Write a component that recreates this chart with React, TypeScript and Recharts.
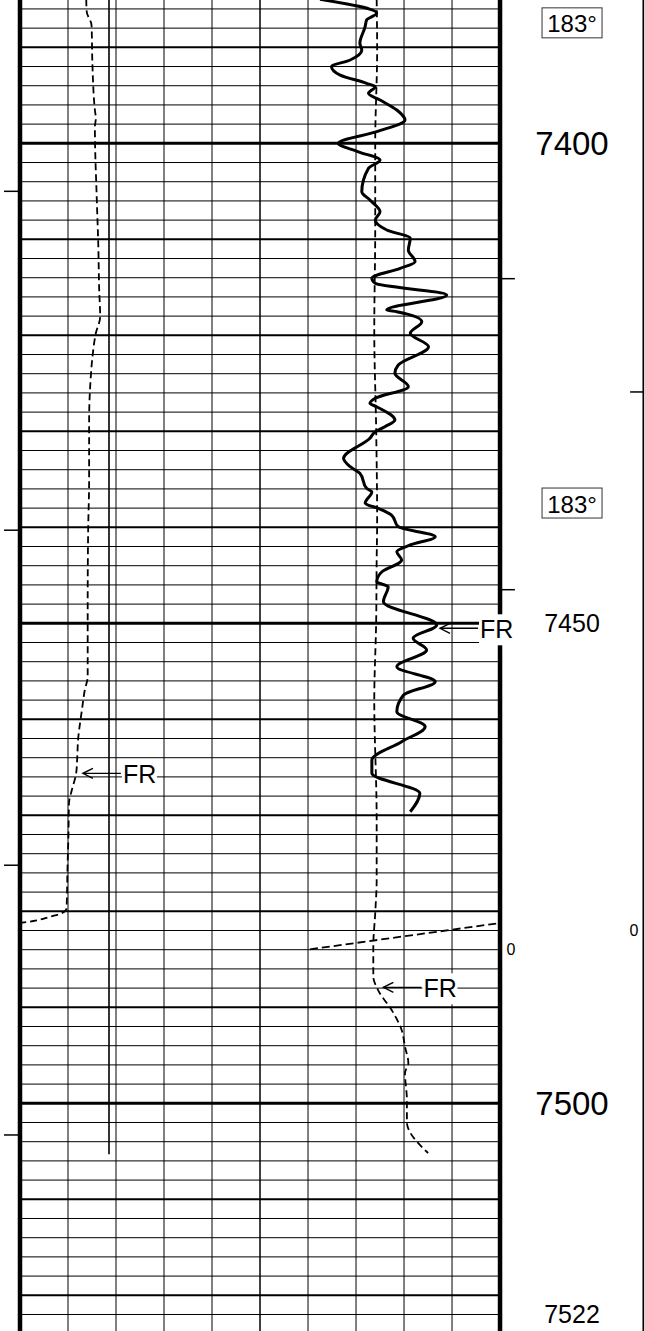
import React from 'react';
import { ScatterChart, Scatter, XAxis, YAxis, ReferenceLine } from 'recharts';

const FONT = '"Liberation Sans", Arial, Helvetica, sans-serif';

// depth window of this strip (ft) and horizontal units (grid divisions)
const TOP_DEPTH = 7385.07;
const BOTTOM_DEPTH = 7523.72;
const GRID_DIVS = 10;
const X_MAX = 13.02; // grid + depth track on the right
const LABEL_X = 11.5; // centre of the depth track

// [depth, value] pairs, value in grid divisions
const mainCurve: [number, number][] = [
  [7385.0, 6.25], [7386.46, 7.43], [7387.16, 7.22], [7387.85, 7.19], [7389.58, 7.08],
  [7390.28, 7.12], [7391.32, 6.88], [7392.02, 6.49], [7392.89, 6.67], [7393.75, 7.22],
  [7394.1, 7.4], [7394.79, 7.26], [7395.49, 7.5], [7396.53, 7.85], [7397.57, 8.02],
  [7398.79, 7.43], [7400.0, 6.63], [7400.88, 7.05], [7401.74, 7.5], [7402.6, 7.26],
  [7405.04, 7.12], [7405.91, 7.29], [7407.13, 7.5], [7407.99, 7.4], [7409.03, 7.64],
  [7409.9, 8.13], [7411.11, 8.09], [7412.33, 8.23], [7413.02, 7.92], [7414.06, 7.33],
  [7414.58, 7.4], [7415.8, 8.89], [7417.36, 7.64], [7417.54, 7.85], [7418.58, 8.37],
  [7419.79, 8.13], [7421.19, 8.51], [7423.09, 7.88], [7423.96, 7.81], [7425.35, 8.09],
  [7426.56, 7.4], [7427.08, 7.29], [7427.44, 7.43], [7428.82, 7.81], [7429.52, 7.6],
  [7430.04, 7.4], [7430.73, 7.29], [7432.81, 6.74], [7433.69, 6.88], [7434.38, 7.08],
  [7435.94, 7.22], [7436.29, 7.33], [7437.5, 7.19], [7438.02, 7.46], [7438.72, 7.74],
  [7439.94, 7.88], [7440.98, 8.65], [7441.84, 8.13], [7442.54, 7.85], [7443.41, 7.95],
  [7444.63, 7.54], [7445.67, 7.43], [7446.19, 7.67], [7447.75, 7.57], [7450.18, 8.68],
  [7451.56, 8.19], [7452.78, 8.47], [7454.52, 7.85], [7456.08, 8.65], [7457.47, 7.99],
  [7459.21, 7.85], [7460.77, 8.44], [7462.33, 7.95], [7464.24, 7.33], [7465.63, 7.33],
  [7467.71, 8.33], [7469.63, 8.13],
];

const shallowCurve: [number, number][] = [
  [7385.0, 7.43], [7390.28, 7.44], [7399.97, 7.4], [7405.91, 7.4], [7409.03, 7.4],
  [7419.45, 7.38], [7429.86, 7.42], [7439.24, 7.44], [7443.41, 7.43], [7449.66, 7.42],
  [7457.99, 7.38], [7470.49, 7.43], [7476.74, 7.43], [7480.18, 7.4], [7483.69, 7.36],
  [7486.81, 7.36], [7488.2, 7.46], [7490.59, 7.78], [7492.36, 7.95], [7494.1, 8.02],
  [7495.8, 8.09], [7496.84, 8.02], [7499.66, 8.06], [7501.95, 8.06], [7505.18, 8.5],
];

const leftCurve: [number, number][] = [
  [7385.0, 1.38], [7386.29, 1.39], [7387.68, 1.49], [7392.02, 1.51], [7396.53, 1.56],
  [7397.4, 1.58], [7398.27, 1.56], [7405.91, 1.6], [7410.42, 1.63], [7415.28, 1.65],
  [7418.06, 1.67], [7419.79, 1.58], [7422.23, 1.51], [7424.66, 1.47], [7428.82, 1.44],
  [7435.07, 1.44], [7440.28, 1.42], [7447.89, 1.41], [7455.56, 1.41], [7456.95, 1.35],
  [7459.03, 1.29], [7462.15, 1.21], [7464.24, 1.19], [7465.63, 1.17], [7467.36, 1.08],
  [7468.75, 1.02], [7471.84, 1.01], [7475.35, 0.99], [7479.69, 0.97], [7480.21, 0.87],
  [7480.56, 0.63], [7481.01, 0.28], [7481.19, 0.04],
];

const baseLine: [number, number][] = [[7385.0, 1.854], [7505.3, 1.854]];
const crossLine: [number, number][] = [[7483.96, 6.04], [7481.25, 9.96]];

// annotations
const frMarks: [number, number][] = [[7450.52, 8.75], [7465.63, 1.31], [7487.92, 7.57]];
const tempMarks: [number, number][] = [[7387.45, 183], [7437.47, 183]];
const depthLabels = [7400, 7450, 7500, 7522];
const zeroMarks: [number, number][] = [[7484.0, 10.23], [7482.0, 12.79]];
const timeMarks = [7405.0, 7440.3, 7475.2, 7503.3];
const borderTicks = [7414.1, 7446.5];
const edgeTicks = [7425.9];

const gridDepths: number[] = [];
for (let d = 7386; d <= 7522; d += 2) gridDepths.push(d);
const gridCols = Array.from({ length: GRID_DIVS + 1 }, (_, i) => i);

const toPts = (rows: [number, number][]) => rows.map(([y, x]) => ({ x, y }));

const NoDot = () => <g />;

const DepthText = (p: any) => (
  <text
    x={p.cx}
    y={p.cy}
    textAnchor="middle"
    dominantBaseline="central"
    fontFamily={FONT}
    fontSize={p.payload.y % 100 === 0 ? 33 : 25}
    fill="#000"
  >
    {p.payload.y}
  </text>
);

const TempBox = (p: any) => (
  <g>
    <rect x={p.cx - 30} y={p.cy - 15} width={60} height={30} fill="#fff" stroke="#333" strokeWidth={1} />
    <text x={p.cx} y={p.cy + 1} textAnchor="middle" dominantBaseline="central" fontFamily={FONT} fontSize={24} fill="#000">
      {p.payload.t}°
    </text>
  </g>
);

const ZeroText = (p: any) => (
  <text x={p.cx} y={p.cy} textAnchor="middle" dominantBaseline="central" fontFamily={FONT} fontSize={16} fill="#000">
    0
  </text>
);

const FrArrow = (p: any) => {
  const { cx, cy } = p;
  return (
    <g>
      <rect x={cx + 39} y={cy - 14} width={35} height={31} fill="#fff" />
      <line x1={cx} y1={cy} x2={cx + 38} y2={cy} stroke="#000" strokeWidth={1.4} />
      <polyline points={`${cx + 10},${cy - 5} ${cx},${cy} ${cx + 10},${cy + 5}`} fill="none" stroke="#000" strokeWidth={1.4} />
      <text x={cx + 40} y={cy + 1} dominantBaseline="central" fontFamily={FONT} fontSize={25} fill="#000">
        FR
      </text>
    </g>
  );
};

export default function App() {
  return (
    <div style={{ position: 'absolute', left: 0, top: 0, width: 645, height: 1331, background: '#fff' }}>
      <ScatterChart width={645} height={1331} margin={{ top: 0, right: 0, bottom: 0, left: 0 }}>
        <XAxis type="number" dataKey="x" domain={[0, X_MAX]} allowDataOverflow hide />
        <YAxis
          type="number"
          dataKey="y"
          domain={[TOP_DEPTH, BOTTOM_DEPTH]}
          reversed
          allowDataOverflow
          width={20}
          ticks={timeMarks}
          interval={0}
          tickSize={16}
          axisLine={false}
          tickLine={{ stroke: '#000', strokeWidth: 1.5 }}
          tick={() => <g />}
        />

        {/* 2 ft / 10 ft / 50 ft depth lines */}
        {gridDepths.map((d) => (
          <ReferenceLine
            key={'h' + d}
            segment={[{ x: 0, y: d }, { x: GRID_DIVS, y: d }]}
            stroke="#000"
            strokeWidth={d % 50 === 0 ? 3 : d % 10 === 0 ? 2 : 1}
            ifOverflow="visible"
          />
        ))}
        {gridCols.map((c) => (
          <ReferenceLine
            key={'v' + c}
            x={c}
            stroke="#000"
            strokeWidth={c === 0 || c === GRID_DIVS ? 4.5 : c === 5 ? 1.5 : 1}
            ifOverflow="visible"
          />
        ))}
        <ReferenceLine x={12.985} stroke="#000" strokeWidth={1.7} ifOverflow="visible" />
        {borderTicks.map((d) => (
          <ReferenceLine key={'bt' + d} segment={[{ x: GRID_DIVS, y: d }, { x: 10.31, y: d }]} stroke="#000" strokeWidth={1.5} />
        ))}
        {edgeTicks.map((d) => (
          <ReferenceLine key={'et' + d} segment={[{ x: 12.71, y: d }, { x: 12.985, y: d }]} stroke="#000" strokeWidth={1.5} />
        ))}

        <Scatter data={toPts(baseLine)} fill="#000" shape={NoDot} line={{ stroke: '#000', strokeWidth: 1.6 }} isAnimationActive={false} />
        <Scatter
          data={toPts(leftCurve)}
          fill="#000"
          shape={NoDot}
          lineJointType="monotoneY"
          line={{ stroke: '#000', strokeWidth: 1.8, strokeDasharray: '7 4' }}
          isAnimationActive={false}
        />
        <Scatter
          data={toPts(shallowCurve)}
          fill="#000"
          shape={NoDot}
          lineJointType="monotoneY"
          line={{ stroke: '#000', strokeWidth: 1.8, strokeDasharray: '7 4' }}
          isAnimationActive={false}
        />
        <Scatter
          data={toPts(crossLine)}
          fill="#000"
          shape={NoDot}
          line={{ stroke: '#000', strokeWidth: 1.8, strokeDasharray: '8 4' }}
          isAnimationActive={false}
        />
        <Scatter
          data={toPts(mainCurve)}
          fill="#000"
          shape={NoDot}
          lineJointType="monotoneY"
          line={{ stroke: '#000', strokeWidth: 3, strokeLinejoin: 'round' }}
          isAnimationActive={false}
        />

        <Scatter data={toPts(frMarks)} shape={FrArrow} isAnimationActive={false} zIndex={2500} />
        <Scatter data={depthLabels.map((d) => ({ x: LABEL_X, y: d }))} shape={DepthText} isAnimationActive={false} zIndex={2500} />
        <Scatter data={tempMarks.map(([d, t]) => ({ x: LABEL_X, y: d, t }))} shape={TempBox} isAnimationActive={false} zIndex={2500} />
        <Scatter data={toPts(zeroMarks)} shape={ZeroText} isAnimationActive={false} zIndex={2500} />
      </ScatterChart>
    </div>
  );
}
